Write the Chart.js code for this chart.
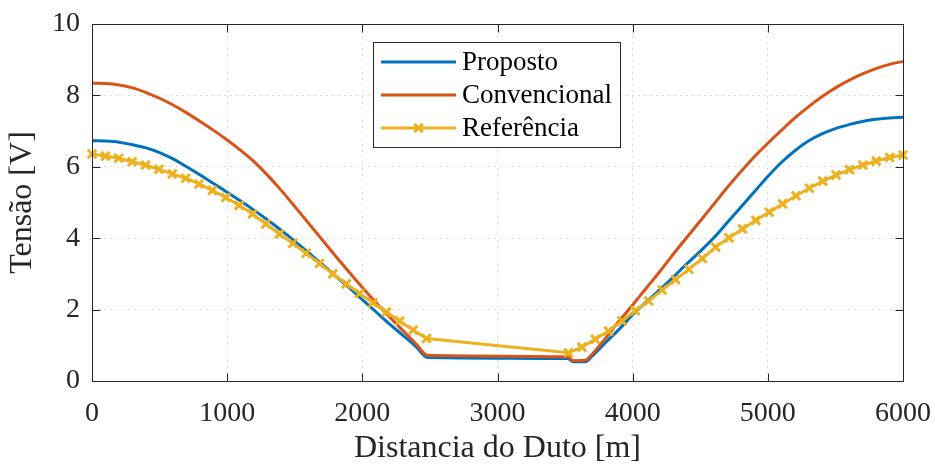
<!DOCTYPE html>
<html>
<head>
<meta charset="utf-8">
<script src="https://cdn.jsdelivr.net/npm/chart.js@4.4.1/dist/chart.umd.min.js"></script>
<style>
  html, body { margin: 0; padding: 0; background: #fff; }
</style>
</head>
<body>
<canvas id="grafico" width="935" height="465"></canvas>
<script>
// Dados
const xProposto = [0, 100, 200, 300, 400, 500, 600, 700, 800, 900, 1000, 1100, 1200, 1300, 1400, 1500, 1600, 1700, 1800, 1900, 2000, 2100, 2200, 2300, 2400, 2480,
  3520, 3560, 3650, 3700, 3800, 3900, 4000, 4100, 4200, 4300, 4400, 4500, 4600, 4700, 4800, 4900, 5000, 5100, 5200, 5300, 5400, 5500, 5600, 5700, 5800, 5900, 6000];
const yProposto = [6.73, 6.72, 6.69, 6.62, 6.53, 6.40, 6.22, 6.00, 5.77, 5.53, 5.29, 5.04, 4.78, 4.51, 4.22, 3.92, 3.60, 3.28, 2.95, 2.62, 2.28, 1.94, 1.60, 1.28, 0.95, 0.66,
  0.63, 0.54, 0.54, 0.70, 1.08, 1.45, 1.86, 2.21, 2.55, 2.91, 3.28, 3.63, 4.01, 4.44, 4.87, 5.30, 5.73, 6.12, 6.45, 6.72, 6.92, 7.07, 7.18, 7.27, 7.33, 7.37, 7.39];

const xConvencional = [0, 100, 200, 300, 400, 500, 600, 700, 800, 900, 1000, 1100, 1200, 1300, 1400, 1500, 1600, 1700, 1800, 1900, 2000, 2100, 2200, 2300, 2400, 2480,
  3520, 3560, 3650, 3700, 3800, 3900, 4000, 4100, 4200, 4300, 4400, 4500, 4600, 4700, 4800, 4900, 5000, 5100, 5200, 5300, 5400, 5500, 5600, 5700, 5800, 5900, 6000];
const yConvencional = [8.34, 8.33, 8.29, 8.21, 8.08, 7.92, 7.73, 7.51, 7.27, 7.02, 6.75, 6.46, 6.14, 5.76, 5.34, 4.89, 4.43, 3.97, 3.51, 3.06, 2.62, 2.20, 1.80, 1.41, 1.03, 0.72,
  0.68, 0.57, 0.58, 0.75, 1.20, 1.68, 2.13, 2.60, 3.06, 3.55, 4.02, 4.48, 4.95, 5.42, 5.86, 6.28, 6.66, 7.02, 7.37, 7.68, 7.96, 8.21, 8.42, 8.60, 8.75, 8.87, 8.95];

const xReferencia = [0, 99, 198, 297, 396, 495, 594, 693, 792, 891, 990, 1089, 1188, 1287, 1386, 1485, 1584, 1683, 1782, 1881, 1980, 2079, 2178, 2277, 2376, 2475,
  3525, 3624, 3723, 3822, 3921, 4020, 4119, 4218, 4317, 4416, 4515, 4614, 4713, 4812, 4911, 5010, 5109, 5208, 5307, 5406, 5505, 5604, 5703, 5802, 5901, 6000];
const yReferencia = [6.36, 6.30, 6.24, 6.14, 6.05, 5.93, 5.80, 5.68, 5.52, 5.34, 5.14, 4.92, 4.68, 4.40, 4.12, 3.86, 3.58, 3.29, 3.00, 2.72, 2.45, 2.19, 1.93, 1.68, 1.43, 1.19,
  0.79, 0.95, 1.17, 1.40, 1.68, 1.97, 2.24, 2.55, 2.84, 3.13, 3.43, 3.75, 4.01, 4.26, 4.50, 4.73, 4.96, 5.19, 5.40, 5.60, 5.77, 5.92, 6.05, 6.16, 6.26, 6.33];

const xTicks = [0, 1000, 2000, 3000, 4000, 5000, 6000];
const yTicks = [0, 2, 4, 6, 8, 10];

const pares = (xs, ys) => xs.map((x, i) => ({ x: x, y: ys[i] }));

const fonte = "'Liberation Serif', 'Times New Roman', serif";
const corEixo = "#262626";

// caixa do eixo com marcas para dentro (estilo MATLAB)
const moldura = {
  id: "moldura",
  afterDatasetsDraw(chart) {
    const { ctx, chartArea: a, scales: { x, y } } = chart;
    ctx.save();
    ctx.strokeStyle = corEixo;
    ctx.lineWidth = 1;
    const l = a.left + 0.5, r = a.right + 0.5, t = a.top + 0.5, b = a.bottom + 0.5;
    ctx.strokeRect(l, t, r - l, b - t);
    ctx.beginPath();
    xTicks.forEach(v => {
      const px = Math.round(x.getPixelForValue(v)) + 0.5;
      ctx.moveTo(px, b); ctx.lineTo(px, b - 8);
      ctx.moveTo(px, t); ctx.lineTo(px, t + 8);
    });
    yTicks.forEach(v => {
      const py = Math.round(y.getPixelForValue(v)) + 0.5;
      ctx.moveTo(l, py); ctx.lineTo(l + 8, py);
      ctx.moveTo(r, py); ctx.lineTo(r - 8, py);
    });
    ctx.stroke();
    ctx.restore();
  }
};

const legenda = {
  id: "legenda",
  afterDraw(chart) {
    const ctx = chart.ctx;
    ctx.save();
    ctx.fillStyle = "#fff";
    ctx.fillRect(373.5, 42.5, 247, 105);
    ctx.strokeStyle = corEixo;
    ctx.lineWidth = 1;
    ctx.strokeRect(373.5, 42.5, 247, 105);
    chart.data.datasets.forEach((ds, i) => {
      const yy = 62 + i * 33;
      ctx.strokeStyle = ds.borderColor;
      ctx.lineWidth = 3;
      ctx.beginPath();
      ctx.moveTo(381, yy);
      ctx.lineTo(456, yy);
      ctx.stroke();
      if (ds.pointRadius > 0) {
        Chart.helpers.drawPoint(ctx, { pointStyle: ds.pointStyle, radius: ds.pointRadius, borderWidth: ds.pointBorderWidth }, 418.5, yy);
      }
      ctx.fillStyle = "#000";
      ctx.font = "27px " + fonte;
      ctx.textAlign = "left";
      ctx.textBaseline = "middle";
      ctx.fillText(ds.label, 462, yy + 1);
    });
    ctx.restore();
  }
};

new Chart(document.getElementById("grafico").getContext("2d"), {
  type: "line",
  data: {
    datasets: [
      {
        label: "Proposto",
        data: pares(xProposto, yProposto),
        borderColor: "#0072BD",
        borderWidth: 3,
        pointRadius: 0,
        cubicInterpolationMode: "monotone",
        order: 3
      },
      {
        label: "Convencional",
        data: pares(xConvencional, yConvencional),
        borderColor: "#D95319",
        borderWidth: 3,
        pointRadius: 0,
        cubicInterpolationMode: "monotone",
        order: 2
      },
      {
        label: "Referência",
        data: pares(xReferencia, yReferencia),
        borderColor: "#EDB120",
        backgroundColor: "#EDB120",
        borderWidth: 3,
        pointStyle: "crossRot",
        pointRadius: 6,
        pointBorderWidth: 3,
        pointBorderColor: "#EDB120",
        clip: false,
        order: 1
      }
    ]
  },
  options: {
    responsive: false,
    animation: false,
    devicePixelRatio: 1,
    layout: { padding: { top: 24, right: 32, left: 0, bottom: 0 } },
    plugins: { legend: { display: false }, tooltip: { enabled: false } },
    scales: {
      x: {
        type: "linear",
        min: 0,
        max: 6000,
        afterBuildTicks: s => { s.ticks = xTicks.map(v => ({ value: v })); },
        afterFit: s => { s.height = 84; s.paddingLeft = 0; s.paddingRight = 0; },
        grid: { color: "#dcdcdc", lineWidth: 1, drawTicks: false },
        border: { display: false, dash: [2, 4] },
        ticks: { color: corEixo, padding: 16, maxRotation: 0, font: { family: fonte, size: 28 }, callback: v => String(v) },
        title: {
          display: true,
          text: "Distancia do Duto [m]",
          color: corEixo,
          padding: { top: 0, bottom: 0 },
          font: { family: fonte, size: 32, lineHeight: 1 }
        }
      },
      y: {
        min: 0,
        max: 10,
        afterBuildTicks: s => { s.ticks = yTicks.map(v => ({ value: v })); },
        afterFit: s => { s.width = 92; s.paddingTop = 0; s.paddingBottom = 0; },
        grid: { color: "#dcdcdc", lineWidth: 1, drawTicks: false },
        border: { display: false, dash: [2, 4] },
        ticks: { color: corEixo, padding: 12, font: { family: fonte, size: 28 }, callback: v => String(v) },
        title: {
          display: true,
          text: "Tensão [V]",
          color: corEixo,
          padding: { top: 7, bottom: 0 },
          font: { family: fonte, size: 32, lineHeight: 1 }
        }
      }
    }
  },
  plugins: [moldura, legenda]
});
</script>
</body>
</html>
